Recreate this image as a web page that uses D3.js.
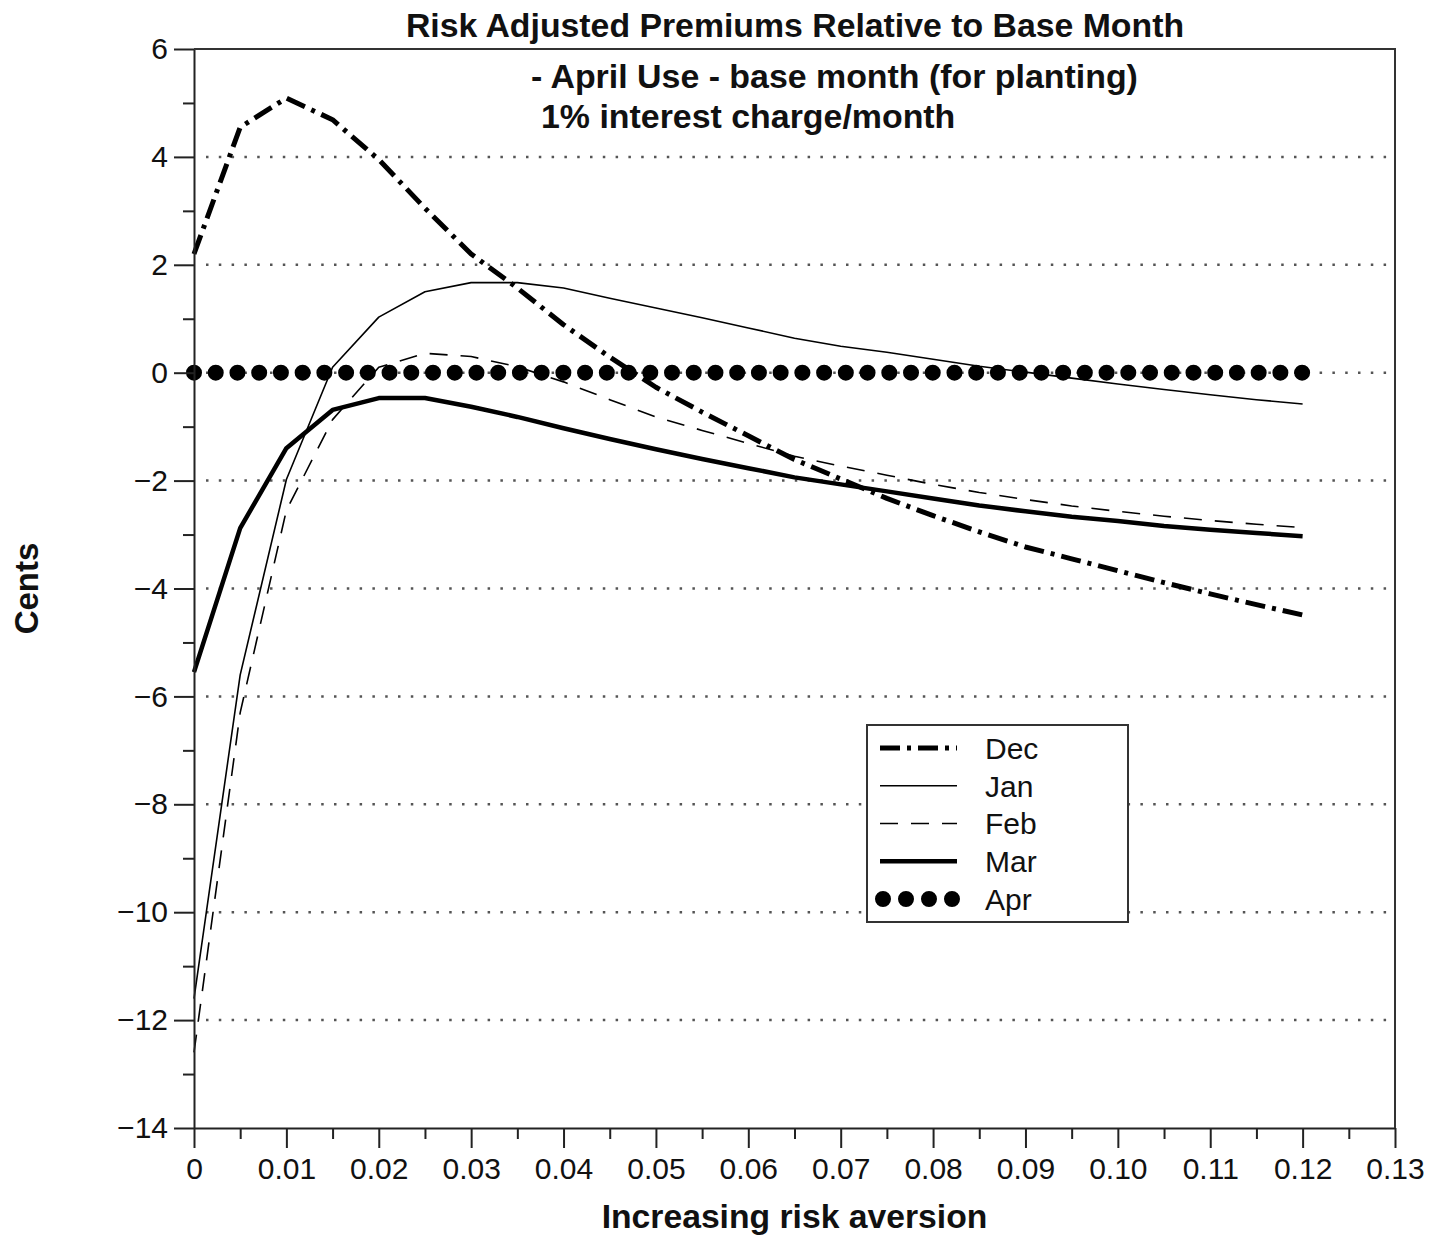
<!DOCTYPE html>
<html>
<head>
<meta charset="utf-8">
<script src="https://cdn.jsdelivr.net/npm/d3@7"></script>
<style>
  body { margin: 0; background: #fff; }
  svg text { font-family: "Liberation Sans", Arial, Helvetica, sans-serif; fill: #111; }
</style>
</head>
<body>
<svg id="chart"></svg>
<script>
// risk aversion coefficient (x) and premiums in cents
const riskAversion = [0, 0.005, 0.01, 0.015, 0.02, 0.025, 0.03, 0.035, 0.04, 0.045, 0.05, 0.055, 0.06,
    0.065, 0.07, 0.075, 0.08, 0.085, 0.09, 0.095, 0.1, 0.105, 0.11, 0.115, 0.12];
const dec = [2.2, 4.55, 5.09, 4.69, 3.95, 3.05, 2.2, 1.57, 0.89, 0.29, -0.27, -0.73, -1.17,
    -1.61, -1.97, -2.33, -2.65, -2.95, -3.23, -3.45, -3.67, -3.89, -4.1, -4.3, -4.49];
const jan = [-11.6, -5.6, -1.98, 0.1, 1.03, 1.5, 1.67, 1.67, 1.57, 1.38, 1.2, 1.02, 0.83,
    0.64, 0.49, 0.38, 0.25, 0.12, 0.01, -0.1, -0.21, -0.31, -0.41, -0.5, -0.58];
const feb = [-12.6, -6.3, -2.55, -0.87, 0.1, 0.36, 0.3, 0.11, -0.17, -0.5, -0.82, -1.07, -1.31,
    -1.55, -1.73, -1.9, -2.07, -2.22, -2.35, -2.47, -2.57, -2.66, -2.74, -2.81, -2.87];
const mar = [-5.55, -2.88, -1.4, -0.69, -0.47, -0.47, -0.63, -0.82, -1.03, -1.23, -1.42, -1.6, -1.77,
    -1.94, -2.07, -2.2, -2.33, -2.46, -2.57, -2.67, -2.75, -2.84, -2.91, -2.97, -3.03];
const apr = [0, 0, 0, 0, 0, 0, 0, 0, 0, 0, 0, 0, 0, 0, 0, 0, 0, 0, 0, 0, 0, 0, 0, 0, 0];

const seriesNames = ['Dec', 'Jan', 'Feb', 'Mar', 'Apr'];
const xTicks = [0, 0.01, 0.02, 0.03, 0.04, 0.05, 0.06, 0.07, 0.08, 0.09, 0.10, 0.11, 0.12, 0.13];
const xMinorTicks = [0.005, 0.015, 0.025, 0.035, 0.045, 0.055, 0.065, 0.075, 0.085, 0.095, 0.105, 0.115, 0.125];
const yTicks = [-14, -12, -10, -8, -6, -4, -2, 0, 2, 4, 6];
const yMinorTicks = [-13, -11, -9, -7, -5, -3, -1, 1, 3, 5];

const title = 'Risk Adjusted Premiums Relative to Base Month';
const subtitle = ['- April Use - base month (for planting)', '1% interest charge/month'];
const xTitle = 'Increasing risk aversion';
const yTitle = 'Cents';

const width = 1446;
const height = 1237;
const margin = { top: 49, right: 51, bottom: 109, left: 194 };

// line styles per series
const styles = {
    Dec: { width: 5, dash: '20,7,4,7', cap: 'butt' },
    Jan: { width: 1.6, dash: null, cap: 'butt' },
    Feb: { width: 1.6, dash: '18,13', cap: 'butt' },
    Mar: { width: 4.5, dash: null, cap: 'butt' },
    Apr: { width: 16, dash: 'dots', cap: 'round' }
};

drawChart();

function drawChart() {
    const svg = d3.select('#chart')
        .attr('width', width)
        .attr('height', height)
        .attr('viewBox', `0 0 ${width} ${height}`);

    const x = d3.scaleLinear()
        .domain([0, 0.13])
        .range([margin.left, width - margin.right]);
    const y = d3.scaleLinear()
        .domain([-14, 6])
        .range([height - margin.bottom, margin.top]);

    //dotted grid lines
    svg.append('g')
        .selectAll('line')
        .data(yTicks.filter(d => d > -14 && d < 6))
        .join('line')
        .attr('x1', x(0) + 12)
        .attr('x2', x(0.13))
        .attr('y1', d => y(d))
        .attr('y2', d => y(d))
        .attr('stroke', '#555')
        .attr('stroke-width', 2.5)
        .attr('stroke-dasharray', '2.5,10.3');

    const series = {
        Dec: dec, Jan: jan, Feb: feb, Mar: mar, Apr: apr
    };
    const line = d3.line()
        .x(d => x(d[0]))
        .y(d => y(d[1]));

    // spacing so a dot lands on both ends of the Apr line
    const aprLen = x(riskAversion[riskAversion.length - 1]) - x(riskAversion[0]);
    const aprDash = `0,${(aprLen - 0.5) / 51}`;

    const drawOrder = ['Apr', 'Feb', 'Jan', 'Mar', 'Dec'];
    svg.append('g')
        .attr('fill', 'none')
        .selectAll('path')
        .data(drawOrder)
        .join('path')
        .attr('d', k => line(riskAversion.map((r, i) => [r, series[k][i]])))
        .attr('stroke', '#000')
        .attr('stroke-width', k => styles[k].width)
        .attr('stroke-linecap', k => styles[k].cap)
        .attr('stroke-linejoin', 'round')
        .attr('stroke-dasharray', k => styles[k].dash === 'dots' ? aprDash : styles[k].dash);

    // axes
    const fontSize = 30;
    svg.append('g')
        .attr('transform', `translate(${x(0)},0)`)
        .call(d3.axisLeft(y).tickValues(yTicks).tickSize(20).tickSizeOuter(0).tickPadding(6)
            .tickFormat(d3.format('d')));
    svg.append('g')
        .attr('transform', `translate(${x(0)},0)`)
        .call(d3.axisLeft(y).tickValues(yMinorTicks).tickSize(11).tickFormat(''))
        .call(g => g.select('.domain').remove());

    svg.append('g')
        .attr('transform', `translate(0,${y(-14)})`)
        .call(d3.axisBottom(x).tickValues(xTicks).tickSize(20).tickSizeOuter(0).tickPadding(10)
            .tickFormat(d => d === 0 ? '0' : d3.format('.2f')(d)));
    svg.append('g')
        .attr('transform', `translate(0,${y(-14)})`)
        .call(d3.axisBottom(x).tickValues(xMinorTicks).tickSize(11).tickFormat(''))
        .call(g => g.select('.domain').remove());

    svg.selectAll('.tick text')
        .attr('font-size', fontSize)
        .attr('font-family', '"Liberation Sans", Arial, sans-serif')
        .attr('fill', '#111');
    svg.selectAll('.tick line, .domain')
        .attr('stroke', '#222')
        .attr('stroke-width', 2);

    // top and right frame
    svg.append('path')
        .attr('d', `M${x(0)},${y(6)}H${x(0.13)}V${y(-14)}`)
        .attr('fill', 'none')
        .attr('stroke', '#333')
        .attr('stroke-width', 2);

    // titles
    svg.append('text')
        .attr('x', 795)
        .attr('y', 37)
        .attr('text-anchor', 'middle')
        .attr('font-size', 33.8)
        .attr('font-weight', 'bold')
        .text(title);

    svg.append('g')
        .selectAll('text')
        .data(subtitle)
        .join('text')
        .attr('x', (d, i) => i === 0 ? 531 : 541)
        .attr('y', (d, i) => 88 + i * 40)
        .attr('font-size', 33.9)
        .attr('font-weight', 'bold')
        .text(d => d);

    svg.append('text')
        .attr('x', (x(0) + x(0.13)) / 2)
        .attr('y', 1228)
        .attr('text-anchor', 'middle')
        .attr('font-size', 33.7)
        .attr('font-weight', 'bold')
        .text(xTitle);

    svg.append('text')
        .attr('transform', `translate(38,${(y(6) + y(-14)) / 2}) rotate(-90)`)
        .attr('text-anchor', 'middle')
        .attr('font-size', 33)
        .attr('font-weight', 'bold')
        .text(yTitle);

    createLegend(svg);
}

function createLegend(svg) {
    const lx = 867, ly = 725, lw = 261, lh = 197;
    const legend = svg.append('g');
    legend.append('rect')
        .attr('x', lx)
        .attr('y', ly)
        .attr('width', lw)
        .attr('height', lh)
        .attr('fill', '#fff')
        .attr('stroke', '#333')
        .attr('stroke-width', 2);

    const rowY = d3.scalePoint()
        .domain(seriesNames)
        .range([ly + 23, ly + 174]);

    const rows = legend.selectAll('g.row')
        .data(seriesNames)
        .join('g')
        .attr('class', 'row')
        .attr('transform', d => `translate(0,${rowY(d)})`);

    rows.append('line')
        .attr('x1', d => d === 'Apr' ? 883 : 880)
        .attr('x2', d => d === 'Apr' ? 953 : 957)
        .attr('stroke', '#000')
        .attr('stroke-width', d => styles[d].width)
        .attr('stroke-linecap', d => styles[d].cap)
        .attr('stroke-dasharray', d => styles[d].dash === 'dots' ? '0,23' : styles[d].dash);

    rows.append('text')
        .attr('x', 985)
        .attr('dy', '0.36em')
        .attr('font-size', 30)
        .text(d => d);
}
</script>
</body>
</html>
